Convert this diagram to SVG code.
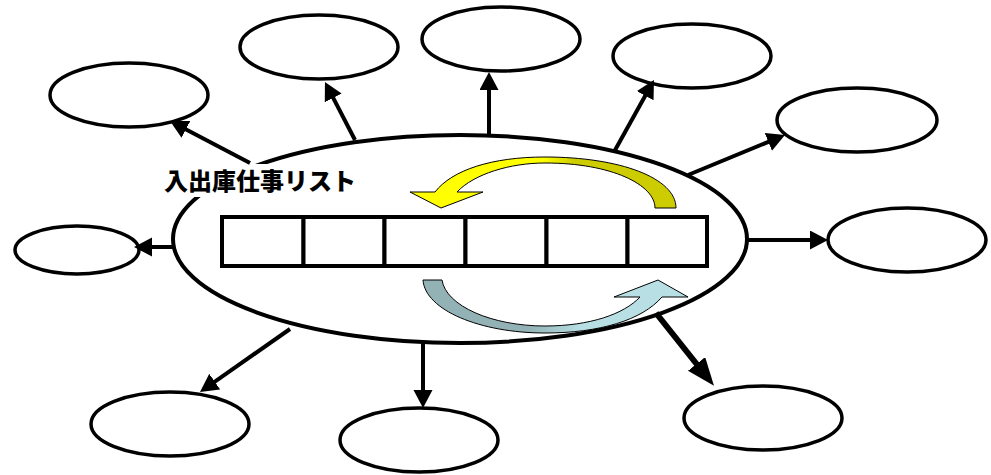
<svg xmlns="http://www.w3.org/2000/svg" width="991" height="475" viewBox="0 0 991 475">
  <style>
    .sat { fill: #fff; stroke: #000; stroke-width: 3.5; }
    .hub { fill: #fff; stroke: #000; stroke-width: 4; }
    .cell { fill: #fff; stroke: #000; stroke-width: 4; }
    .link { stroke: #000; stroke-width: 4; fill: none; marker-end: url(#head); }
    .link-wide { stroke: #000; stroke-width: 6; fill: none; marker-end: url(#headBig); }
    .cycle { stroke: #000; stroke-width: 1; }
    .title { font-family: "Noto Sans CJK JP", "Noto Sans", sans-serif; font-weight: 900; font-size: 24px; fill: #000; }
  </style>
  <defs>
    <marker id="head" markerUnits="userSpaceOnUse" markerWidth="20" markerHeight="20" refX="2" refY="9.5" orient="auto">
      <path d="M0,0 L18,9.5 L0,19 Z" fill="#000"/>
    </marker>
    <marker id="headBig" markerUnits="userSpaceOnUse" markerWidth="30" markerHeight="24" refX="2" refY="11" orient="auto">
      <path d="M0,0 L28,11 L0,22 Z" fill="#000"/>
    </marker>
    <linearGradient id="gYellow" x1="410" y1="0" x2="676" y2="0" gradientUnits="userSpaceOnUse">
      <stop offset="0" stop-color="#FFFF00"/>
      <stop offset="0.5" stop-color="#FFFF00"/>
      <stop offset="0.62" stop-color="#CCCC00"/>
      <stop offset="1" stop-color="#CCCC00"/>
    </linearGradient>
    <linearGradient id="gBlue" x1="423" y1="0" x2="688" y2="0" gradientUnits="userSpaceOnUse">
      <stop offset="0" stop-color="#93B2B6"/>
      <stop offset="0.4" stop-color="#93B2B6"/>
      <stop offset="0.6" stop-color="#B8E0E4"/>
      <stop offset="1" stop-color="#B8E0E4"/>
    </linearGradient>
  </defs>

  <!-- central job list -->
  <g id="hub">
    <ellipse class="hub" cx="460" cy="239" rx="287" ry="104"/>
    <rect x="158" y="164" width="205" height="33" fill="#fff"/>
    <text class="title" x="164" y="190">入出庫仕事リスト</text>
    <g id="slots">
      <rect class="cell" x="222" y="217" width="81.5" height="49"/>
      <rect class="cell" x="303.5" y="217" width="81" height="49"/>
      <rect class="cell" x="384.5" y="217" width="81" height="49"/>
      <rect class="cell" x="465.5" y="217" width="81" height="49"/>
      <rect class="cell" x="546.5" y="217" width="81" height="49"/>
      <rect class="cell" x="627.5" y="217" width="79.5" height="49"/>
    </g>
    <!-- rotation arrows -->
    <path id="cycle-top" class="cycle" fill="url(#gYellow)" d="M676,208 C676,178 620,157 545,157 C492,157 452,170 435,192 L410,192 L441,208 L483,192 L457,192 C474,174 510,163 545,163 C612,163 655,185 655,208 Z"/>
    <path id="cycle-bottom" class="cycle" fill="url(#gBlue)" d="M423,280 L442,280 C446,306 492,326 545,326 C590,326 624,314 640,297 L614,297 L658,280 L688,297 L662,297 C642,320 600,333 545,333 C480,333 425,310 423,280 Z"/>
  </g>

  <!-- surrounding nodes -->
  <g id="n1"><ellipse class="sat" cx="129" cy="95" rx="79" ry="32"/></g>
  <g id="n2"><ellipse class="sat" cx="319" cy="47" rx="79" ry="32"/></g>
  <g id="n3"><ellipse class="sat" cx="501" cy="39" rx="79" ry="32"/></g>
  <g id="n4"><ellipse class="sat" cx="692" cy="56" rx="79" ry="32"/></g>
  <g id="n5"><ellipse class="sat" cx="857" cy="120" rx="80" ry="32"/></g>
  <g id="n6"><ellipse class="sat" cx="907" cy="240" rx="79" ry="32"/></g>
  <g id="n7"><ellipse class="sat" cx="763" cy="418" rx="79" ry="32"/></g>
  <g id="n8"><ellipse class="sat" cx="419" cy="440" rx="79" ry="32"/></g>
  <g id="n9"><ellipse class="sat" cx="170" cy="424" rx="79" ry="32"/></g>
  <g id="n10"><ellipse class="sat" cx="77" cy="250" rx="62" ry="24"/></g>

  <!-- connectors -->
  <g id="connectors">
    <line class="link" x1="250" y1="163" x2="184.2" y2="128.4"/>
    <line class="link" x1="355" y1="140" x2="332.3" y2="96.2"/>
    <line class="link" x1="489" y1="136" x2="489" y2="88"/>
    <line class="link" x1="614" y1="152" x2="646.2" y2="94"/>
    <line class="link" x1="688" y1="175" x2="770.2" y2="141.1"/>
    <line class="link" x1="747" y1="240" x2="812" y2="240"/>
    <line class="link-wide" x1="656" y1="313" x2="697.8" y2="365.5"/>
    <line class="link" x1="423" y1="343" x2="423" y2="392"/>
    <line class="link" x1="290" y1="329" x2="213.1" y2="382.8"/>
    <line class="link" x1="173" y1="247" x2="150" y2="247"/>
  </g>
</svg>
